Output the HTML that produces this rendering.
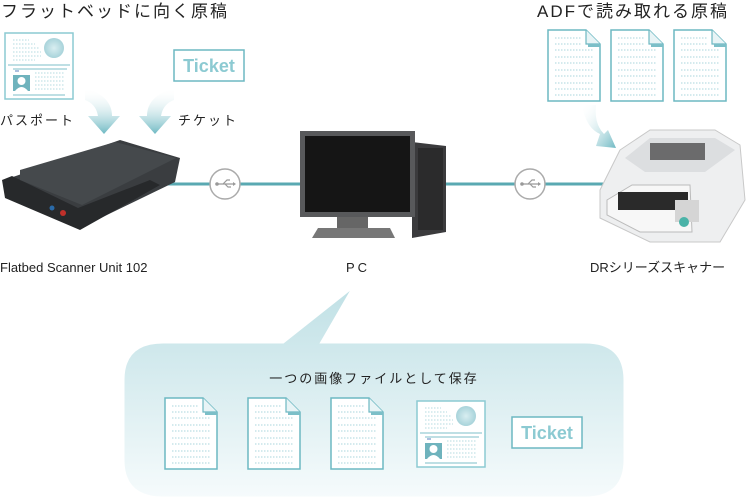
<!DOCTYPE html>
<html><head><meta charset="utf-8"><style>
html,body{margin:0;padding:0;background:#fff;width:749px;height:504px;overflow:hidden}
svg{display:block}
text{font-family:"Liberation Sans","Noto Sans CJK JP",sans-serif;fill:#222}
</style></head><body>
<svg width="749" height="504" viewBox="0 0 749 504" xmlns="http://www.w3.org/2000/svg">
<defs>
<linearGradient id="bub" x1="0" y1="0" x2="0" y2="1"><stop offset="0" stop-color="#bfe0e5"/><stop offset="1" stop-color="#f6fbfc"/></linearGradient>
<linearGradient id="arr" x1="0" y1="0" x2="0" y2="1"><stop offset="0" stop-color="#fff" stop-opacity="0"/><stop offset="1" stop-color="#6fb9c3"/></linearGradient>
<linearGradient id="arr2" x1="0" y1="0" x2="1" y2="1"><stop offset="0" stop-color="#fff" stop-opacity="0"/><stop offset="1" stop-color="#6fb9c3"/></linearGradient>
<radialGradient id="circ"><stop offset="0" stop-color="#d9eef1"/><stop offset="1" stop-color="#a8d3da"/></radialGradient>
<g id="doc">
<path d="M0 0H38L52 14V71H0Z" fill="#fff" stroke="#6db8c2" stroke-width="1.5"/>
<path d="M38 0V14H52" fill="#e8f4f6" stroke="#6db8c2" stroke-width="1.2"/>
<rect x="40" y="14" width="12" height="3" fill="#7cbfc8"/>
<g stroke="#a9d6dc" stroke-width="1" stroke-dasharray="1.5 1.5">
<path d="M7 8H34M7 14H34M7 20H46M7 27H46M7 33H46M7 40H46M7 46H46M7 53H46M7 59H46M7 65H46"/></g>
</g>
<g id="pass">
<rect x="0" y="0" width="68" height="66" fill="#fff" stroke="#8ccad2" stroke-width="1.5"/>
<circle cx="49" cy="15" r="10" fill="url(#circ)"/>
<g stroke="#b5dbe0" stroke-dasharray="1.5 1.5"><path d="M8 7H24M8 11H30M8 15H34M8 19H36M8 23H36M8 27H30"/></g>
<path d="M3 32H65" stroke="#7cbfc8"/>
<path d="M8 36H62" stroke="#7cbfc8"/>
<rect x="8" y="42" width="17" height="16" fill="#6fb3bd"/>
<circle cx="16.5" cy="48" r="4" fill="#fff"/><path d="M10 58Q16.5 50 23 58Z" fill="#fff"/>
<path d="M10 38H14" stroke="#5a7fbf"/>
<g stroke="#b5dbe0" stroke-dasharray="1.5 1.5"><path d="M30 40H60M30 44H60M30 48H60M30 52H60M30 56H60"/></g>
<path d="M8 62H60" stroke="#7cbfc8"/>
</g>
<g id="tick">
<rect x="0" y="0" width="70" height="31" fill="#fff" stroke="#6db8c2" stroke-width="1.5"/>
<text x="35" y="22" text-anchor="middle" font-size="18" font-weight="bold" style="fill:#8ccad2">Ticket</text>
</g>
<g id="usb">
<circle r="15" fill="#fff" stroke="#aaa" stroke-width="1.5"/>
<path d="M-8 0H8M-2 0L2-4H5M0 0L3 3H6" stroke="#999" stroke-width="1.2" fill="none"/>
<circle cx="-8" cy="0" r="1.8" fill="#999"/><path d="M8-2L11 0L8 2Z" fill="#999"/>
</g>
</defs>

<text x="1" y="17" font-size="17" letter-spacing="2">フラットベッドに向く原稿</text>
<text x="537" y="17" font-size="17" letter-spacing="2">ADFで読み取れる原稿</text>
<text x="0" y="125" font-size="13" letter-spacing="2">パスポート</text>
<text x="178" y="125" font-size="13" letter-spacing="2">チケット</text>
<text x="0" y="272" font-size="13">Flatbed Scanner Unit 102</text>
<text x="346" y="272" font-size="13" letter-spacing="3">PC</text>
<text x="590" y="272" font-size="13">DRシリーズスキャナー</text>

<use href="#pass" x="5" y="33"/>
<use href="#tick" x="174" y="50"/>
<use href="#doc" x="548" y="30"/>
<use href="#doc" x="611" y="30"/>
<use href="#doc" x="674" y="30"/>

<!-- arrows -->
<path d="M85 88Q112 96 112 116H120L104 134L88 116H98Q96 104 85 100Z" fill="url(#arr)"/>
<path d="M174 88Q147 96 147 116H139L155 134L171 116H161Q163 104 174 100Z" fill="url(#arr)"/>
<path d="M582 105Q586 128 600 134L596 146L616 148L608 130L604 134Q594 124 596 105Z" fill="url(#arr2)"/>

<path d="M150 184H610" stroke="#5aa9b2" stroke-width="3"/>
<use href="#usb" x="225" y="184"/>
<use href="#usb" x="530" y="184"/>

<!-- flatbed scanner -->
<path d="M10 178L120 140L180 158L175 182L80 228L12 198Z" fill="#3a3d40"/>
<path d="M2 180L12 176L78 208L150 180L160 185L80 230L5 198Z" fill="#27292b"/>
<path d="M20 170L115 142L176 158L82 205L20 180Z" fill="#45494c"/>
<circle cx="52" cy="208" r="2.5" fill="#2a6aa8"/><circle cx="63" cy="213" r="3" fill="#c0302a"/>

<!-- PC -->
<path d="M412 142L446 146V232L412 238Z" fill="#3b3b3d"/>
<path d="M418 148H443V230H418Z" fill="#222" opacity="0.6"/>
<rect x="300" y="131" width="115" height="86" fill="#58595b"/>
<rect x="305" y="136" width="105" height="76" fill="#151515"/>
<path d="M337 217H368V228H337Z" fill="#666"/>
<path d="M318 228H390L395 238H312Z" fill="#777"/>

<!-- DR scanner -->
<path d="M620 150L650 130H715L740 145L745 200L720 242H650L600 218V190Z" fill="#eeeff0" stroke="#c8c8c8"/>
<path d="M625 158L650 138H715L735 150L705 172H645Z" fill="#dcdee0"/>
<path d="M650 143H705V160H650Z" fill="#3a3a3a" opacity="0.7"/>
<path d="M607 200L632 185H690L692 232H640L607 215Z" fill="#f7f7f7" stroke="#bbb"/>
<path d="M618 192H688V210H618Z" fill="#2a2a2a"/>
<rect x="675" y="200" width="24" height="22" fill="#d5d5d5"/>
<circle cx="684" cy="222" r="5" fill="#4ab3a8"/>

<!-- bubble -->
<path d="M163 342H283L355 285L322 342H585Q625 342 625 380V460Q625 498 585 498H163Q123 498 123 460V380Q123 342 163 342Z" fill="url(#bub)" stroke="#fff" stroke-width="3"/>
<text x="374" y="383" font-size="13" text-anchor="middle" letter-spacing="2">一つの画像ファイルとして保存</text>
<use href="#doc" x="165" y="398"/>
<use href="#doc" x="248" y="398"/>
<use href="#doc" x="331" y="398"/>
<use href="#pass" x="417" y="401"/>
<use href="#tick" x="512" y="417"/>
</svg>
</body></html>
